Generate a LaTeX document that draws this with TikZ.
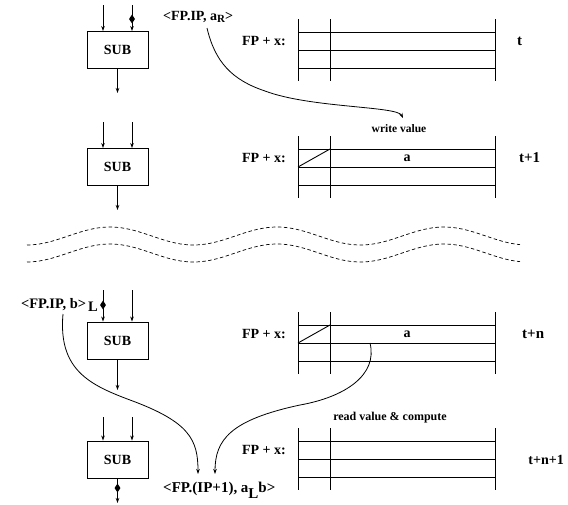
\documentclass[tikz,border=0pt]{standalone}
\usepackage{fontspec}
\setmainfont{Liberation Serif}
\usetikzlibrary{arrows.meta,shapes.geometric}
\begin{document}
\begin{tikzpicture}[x=1pt,y=-1pt,
  subbox/.style={draw,line width=0.9pt,minimum width=61pt,minimum height=37pt,inner sep=0pt,font=\fontsize{14}{14}\selectfont\bfseries},
  arr/.style={line width=0.8pt,-{Stealth[length=5pt,width=3.5pt]}},
  dia/.style={diamond,fill=black,inner sep=0pt,minimum width=6pt,minimum height=9pt},
  lbl/.style={font=\fontsize{14}{14}\selectfont\bfseries,inner sep=0pt},
  tlab/.style={font=\fontsize{15}{15}\selectfont\bfseries,inner sep=0pt,anchor=west},
  msg/.style={font=\fontsize{14.5}{14.5}\selectfont\bfseries,inner sep=0pt},
  tl/.style={line width=0.9pt},
  wave/.style={line width=0.7pt,dash pattern=on 3.5pt off 2.5pt}
]
\useasboundingbox (0,0) rectangle (568,504);

% ---------- register tables ----------
\newcommand\regtab[1]{%
  \draw[tl] (298,#1-13) -- (298,#1+49);
  \draw[tl] (330,#1-13) -- (330,#1+49);
  \draw[tl] (495,#1-13) -- (495,#1+49);
  \draw[tl] (298,#1) -- (495,#1);
  \draw[tl] (298,#1+18) -- (495,#1+18);
  \draw[tl] (298,#1+36) -- (495,#1+36);
}
\regtab{32}
\regtab{149}
\regtab{325}
\regtab{441}
\draw[tl] (298,167) -- (330,149);
\draw[tl] (298,343) -- (330,325);

\node[lbl] (fx1) at (264,41) {FP + x:};
\node[lbl] (fx2) at (264,158) {FP + x:};
\node[lbl] (fx3) at (264,334) {FP + x:};
\node[lbl] (fx4) at (264,450) {FP + x:};
\node[lbl] (a2) at (407,158) {a};
\node[lbl] (a3) at (407,334) {a};
\node[tlab] (t1) at (517,41) {t};
\node[tlab] (t2) at (519,158) {t+1};
\node[tlab] (t3) at (522,334) {t+n};
\node[tlab,anchor=east,font=\fontsize{14}{14}\selectfont\bfseries] (t4) at (564,460) {t+n+1};

% ---------- panel 1 ----------
\node[subbox] (s1) at (117.5,50) {SUB};
\coordinate (i1a) at (103,5);
\coordinate (i1b) at (132,5);
\coordinate (o1) at (117.5,93);
\draw[arr] (i1a) -- (i1a |- s1.north);
\draw[arr] (i1b) -- (i1b |- s1.north);
\node[dia] (d1) at (132,19) {};
\draw[arr] (s1.south) -- (o1);
\node[msg,font=\fontsize{14}{14}\selectfont\bfseries,anchor=west] (m1) at (163,17) {<FP.IP, a\raisebox{-2.5pt}{\fontsize{11}{11}\selectfont R}>};
\coordinate (c1s) at (207,28);
\node[font=\fontsize{11.5}{11.5}\selectfont\bfseries,inner sep=0pt] (wv) at (399,129) {write value};
\coordinate (c1e) at (403,118);
\draw[arr] (c1s) .. controls (215,62) and (232,80) .. (265,91)
  .. controls (310,108) and (397,106) .. (c1e);

% ---------- panel 2 ----------
\node[subbox] (s2) at (117.5,167) {SUB};
\coordinate (i2a) at (103,122);
\coordinate (i2b) at (132,122);
\coordinate (o2) at (117.5,210);
\draw[arr] (i2a) -- (i2a |- s2.north);
\draw[arr] (i2b) -- (i2b |- s2.north);
\draw[arr] (s2.south) -- (o2);

% ---------- break ----------
\draw[wave] plot[domain=27:520,samples=120] (\x,{236-9*cos(2.1557*(\x-110))});
\draw[wave] plot[domain=27:520,samples=120] (\x,{253-9*cos(2.1557*(\x-110))});

% ---------- panel 3 ----------
\node[subbox] (s3) at (117.5,340.5) {SUB};
\coordinate (i3a) at (103,290);
\coordinate (i3b) at (132,290);
\coordinate (o3) at (117.5,390);
\draw[arr] (i3a) -- (i3a |- s3.north);
\draw[arr] (i3b) -- (i3b |- s3.north);
\node[dia] (d3) at (103,305) {};
\draw[arr] (s3.south) -- (o3);
\node[msg,anchor=east] (m3) at (98,305) {<FP.IP, b>\kern2pt\raisebox{-3pt}{L}};

% ---------- panel 4 ----------
\node[subbox] (s4) at (117.5,459.5) {SUB};
\coordinate (i4a) at (103,417);
\coordinate (i4b) at (132,417);
\coordinate (o4) at (117.5,503);
\draw[arr] (i4a) -- (i4a |- s4.north);
\draw[arr] (i4b) -- (i4b |- s4.north);
\draw[arr] (s4.south) -- (o4);
\node[dia] (d4) at (117.5,488) {};
\node[msg,anchor=west,font=\fontsize{15}{15}\selectfont\bfseries] (m4) at (163,490) {<FP.(IP+1), a\raisebox{-6pt}{L}b>};
\node[font=\fontsize{12}{12}\selectfont\bfseries,inner sep=0pt] (rv) at (390,418) {read value \& compute};

% ---------- connectors ----------
\coordinate (c2s) at (63,314);
\coordinate (c2e) at (198,474);
\draw[arr] (c2s) .. controls (58,370) and (90,385) .. (130,400)
  .. controls (190,422) and (198,440) .. (c2e);
\coordinate (c3s) at (370,343);
\coordinate (c3e) at (215,474);
\draw[arr] (c3s) .. controls (378,375) and (345,397) .. (300,405)
  .. controls (230,420) and (215,440) .. (c3e);
\end{tikzpicture}
\end{document}
